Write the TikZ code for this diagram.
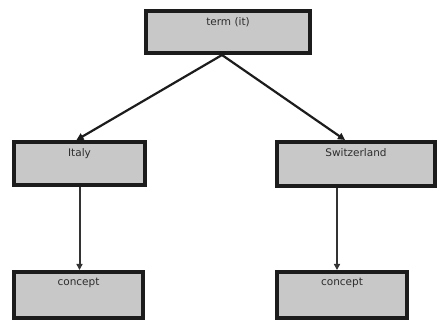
\documentclass[tikz,border=0pt]{standalone}
\usepackage{fontspec}
\setmainfont{DejaVu Sans}
\usetikzlibrary{arrows.meta}
\definecolor{boxfill}{RGB}{200,200,200}
\definecolor{boxline}{RGB}{28,28,28}
\definecolor{txt}{RGB}{45,45,45}
\tikzset{
  box/.style={draw=boxline, fill=boxfill, line width=4pt, anchor=north west, inner sep=0pt},
  lbl/.style={font=\fontsize{10.5}{12}\selectfont, text=txt, anchor=north, yshift=-5pt},
  conn/.style={draw=boxline, line width=2.2pt, -{Triangle[length=7pt,width=7pt]}},
  vconn/.style={draw=boxline!90, line width=2pt, -{Triangle[length=6pt,width=6pt]}}
}
\begin{document}
\begin{tikzpicture}[x=1pt,y=-1pt]
\useasboundingbox (0,0) rectangle (437,320);
\fill[white] (0,0) rectangle (437,320);
\node[box, minimum width=164pt, minimum height=42pt, label={[lbl]north:term (it)}] (top) at (144,9) {};
\node[box, minimum width=131pt, minimum height=43pt, label={[lbl]north:Italy}] (italy) at (12,140) {};
\node[box, minimum width=158pt, minimum height=44pt, label={[lbl]north:Switzerland}] (swiss) at (275,140) {};
\node[box, minimum width=129pt, minimum height=46pt, label={[lbl]north:concept}] (conL) at (12,270) {};
\node[box, minimum width=130pt, minimum height=46pt, label={[lbl]north:concept}] (conR) at (275,270) {};
\draw[conn] ([xshift=-6pt]top.south) -- ([xshift=-3pt]italy.north);
\draw[conn] ([xshift=-6pt]top.south) -- ([xshift=-11pt]swiss.north);
\draw[vconn] (italy.south) -- (italy.south |- conL.north);
\draw[vconn] ([xshift=-19pt]swiss.south) -- ([xshift=-19pt]swiss.south |- conR.north);
\end{tikzpicture}
\end{document}
